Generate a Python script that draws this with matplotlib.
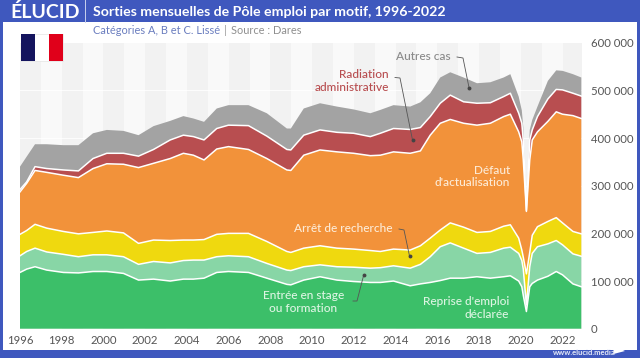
import numpy as np
import matplotlib
matplotlib.use("Agg")
import matplotlib.pyplot as plt
from matplotlib.patches import Rectangle, Polygon

# Dates of the points
dates = [1996.0,1996.32,1996.72,1997.28,1998.08,1998.8,1999.5,2000.16,2000.96,2001.68,2002.4,2003.2,2003.83,2004.31,2004.82,2005.43,2005.99,2006.95,2007.83,2008.79,2008.98,2009.6,2010.38,2011.19,2011.99,2012.79,2013.27,2013.9,2014.7,2015.19,2015.66,2016.14,2016.62,2017.26,2017.9,2018.54,2019.18,2019.5,2019.9,2020.05,2020.12,2020.27,2020.43,2020.55,2020.8,2021.3,2021.7,2022,2022.5,2022.9]

# Top of each stacked band, thousands
top_reprise = [118,125,130,123,118,117,120,120,116,102,104,100,104,104,106,118,120,118,106,93,92,102,109,102,99,97,97,100,90,94,97,101,106,106,109,106,109,111,100,88,70,36,88,95,102,110,120,113,94,88]
top_stage = [153,162,169,161,156,151,155,155,151,135,141,138,143,144,144,151,153,151,137,123,122,130,134,130,129,127,128,132,127,135,151,172,180,169,158,160,169,171,158,143,125,50,130,158,172,178,185,176,157,152]
top_arret = [198,206,219,211,204,199,202,205,201,179,186,185,186,186,187,198,200,200,183,162,160,169,174,169,167,164,162,167,165,174,190,207,222,213,202,204,215,218,190,165,150,115,160,196,214,225,233,222,204,199]
top_defaut = [287,305,332,328,322,317,336,346,345,338,347,357,368,364,354,377,382,376,357,333,332,364,375,371,368,363,364,371,368,373,406,431,439,431,427,431,445,450,413,392,354,246,354,396,413,435,455,450,447,441]
top_radiation = [292,308,340,336,333,331,357,368,368,362,376,396,406,403,396,420,427,426,404,376,375,406,417,412,410,403,410,420,418,422,445,473,490,476,473,474,487,494,452,431,395,248,396,417,445,482,502,501,494,488]
top_autres = [340,361,387,387,385,385,410,417,415,406,425,436,446,441,434,462,469,469,452,420,420,462,473,466,460,452,459,469,466,475,494,527,538,527,515,517,527,534,487,458,423,250,417,438,466,520,542,541,534,527]

x_ticks = list(range(1996, 2023, 2))
y_ticks = [0, 100000, 200000, 300000, 400000, 500000, 600000]
y_labels = ["0", "100 000", "200 000", "300 000", "400 000", "500 000", "600 000"]
colors = ["#3CBF69", "#88D6A6", "#EFD90F", "#F2923A", "#B84E50", "#A3A3A3"]

plt.rcParams["font.family"] = ["Lato", "DejaVu Sans"]
W, H = 640, 358
fig = plt.figure(figsize=(6.4, 3.58), dpi=100, facecolor="white")

ax = fig.add_axes([20/W, 1-328.7/H, 561.7/W, 286/H])
x = np.array(dates)
tops = np.array([top_reprise, top_stage, top_arret, top_defaut, top_radiation, top_autres], dtype=float) * 1000
layers = np.diff(np.vstack([np.zeros(len(x)), tops]), axis=0)

ax.set_xlim(1996, 2022.92)
ax.set_ylim(0, 600000)
for y0 in range(1996, 2023):
    ax.axvspan(y0, y0+1, color="#F2F2F2" if (y0 % 2 == 0) else "#F9F9F9", lw=0, zorder=0)
for v in y_ticks[1:-1]:
    ax.axhline(v, color="white", lw=0.6, zorder=0.5)
ax.stackplot(x, layers, colors=colors, lw=0, zorder=2)
for t in tops[:-1]:
    ax.plot(x, t, color="white", lw=1.1, zorder=3, solid_joinstyle="round")
for s in ax.spines.values():
    s.set_visible(False)
ax.yaxis.tick_right()
ax.set_xticks(x_ticks)
ax.set_yticks(y_ticks)
ax.set_yticklabels(y_labels)
ax.tick_params(length=0, labelsize=8.2, labelcolor="#555555")
ax.tick_params(axis="y", pad=6.5)
ax.tick_params(axis="x", pad=4.2)

# Overlay in pixel coordinates for frame, header and labels
ov = fig.add_axes([0, 0, 1, 1], facecolor="none")
ov.set_xlim(0, W)
ov.set_ylim(H, 0)
ov.axis("off")
BLUE = "#3F58BE"
for r in [(0, 0, W, 21.7), (0, 0, 3.2, H), (637, 0, 3, H), (0, 349.8, W, 8.2)]:
    ov.add_patch(Rectangle((r[0], r[1]), r[2], r[3], color=BLUE, lw=0))
ov.plot([84.5, 84.5], [0, 21.7], color="#C8D0EE", lw=0.7)
ov.text(10.5, 12, "ÉLUCID", color="white", fontsize=14, fontweight="bold", va="center", ha="left")
ov.text(93, 12, "Sorties mensuelles de Pôle emploi par motif, 1996-2022", color="white",
        fontsize=10.2, fontweight="bold", va="center", ha="left")
ov.text(93, 30.5, "Catégories A, B et C. Lissé", color="#6A7DBF", fontsize=7.9, va="center", ha="left")
ov.text(224, 30.5, "|", color="#999999", fontsize=8, va="center", ha="left")
ov.text(231, 30.5, "Source : Dares", color="#8F8F8F", fontsize=7.9, va="center", ha="left")

# Flag
ov.add_patch(Rectangle((20.5, 34), 42, 27, facecolor="#FFFFFF", edgecolor="#DDDDDD", lw=0.4))
ov.add_patch(Rectangle((20.5, 34), 14, 27, color="#14145E", lw=0))
ov.add_patch(Rectangle((48.5, 34), 14, 27, color="#E0001A", lw=0))

# Footer
ov.text(553, 352.8, "www.elucid.media", color="#E6EAF8", fontsize=5.5, fontweight="bold", va="center", ha="left")
ov.add_patch(Polygon([(613.5, 350), (625, 345), (621, 349), (625, 351), (613.5, 354)], color="white", lw=0))

# Labels
cream = "#FDEBD6"
pale = "#DDF5E3"
kw = dict(fontsize=8.6, fontweight=500, va="center", linespacing=1.18)
ov.text(451, 57, "Autres cas", color="#8A8A8A", ha="right", **kw)
ov.text(389, 81, "Radiation\nadministrative", color="#B84E50", ha="right", **kw)
ov.text(510, 176.5, "Défaut\nd'actualisation", color=cream, ha="right", **kw)
ov.text(392, 229, "Arrêt de recherche", color=cream, ha="right", **kw)
ov.text(303.5, 302, "Entrée en stage\nou formation", color=pale, ha="center", **kw)
ov.text(509, 308, "Reprise d'emploi\ndéclarée", color=pale, ha="right", **kw)

# Leaders
leaders = [
    [(457, 57), (463, 58), (469, 87.5)],
    [(395, 77.5), (400, 78), (412.5, 140)],
    [(399, 229), (404, 230), (409.5, 256)],
    [(353, 301), (357, 301), (363.7, 275)],
]
for pts in leaders:
    xs, ys = zip(*pts)
    ov.plot(xs, ys, color="#555555", lw=0.6)
    ov.plot(xs[-1], ys[-1], "o", color="#444444", ms=2.8, mew=0)

fig.savefig("out.png", dpi=100)
